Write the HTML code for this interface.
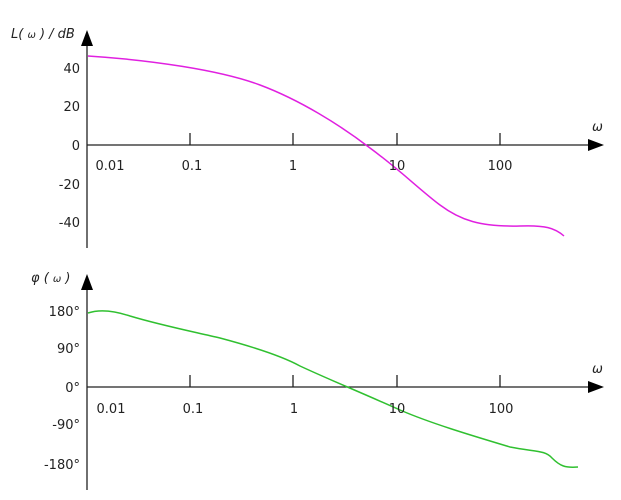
<!DOCTYPE html>
<html><head><style>body{margin:0;background:#fff}svg{display:block}text{font-family:"DejaVu Sans","Liberation Sans",sans-serif;font-size:13px;fill:#222}</style></head><body>
<svg width="621" height="500" viewBox="0 0 621 500">
<g stroke="#222" stroke-width="1.3" fill="none">
<line x1="87" y1="44" x2="87" y2="248"/>
<line x1="87" y1="145" x2="590" y2="145"/>
<line x1="190" y1="133" x2="190" y2="145"/><line x1="293" y1="133" x2="293" y2="145"/><line x1="397" y1="133" x2="397" y2="145"/><line x1="500" y1="133" x2="500" y2="145"/>
<line x1="87" y1="288" x2="87" y2="490"/>
<line x1="87" y1="387" x2="590" y2="387"/>
<line x1="190" y1="375" x2="190" y2="387"/><line x1="293" y1="375" x2="293" y2="387"/><line x1="397" y1="375" x2="397" y2="387"/><line x1="500" y1="375" x2="500" y2="387"/>
</g>
<polygon points="87,30 81,46 93,46" fill="#000"/>
<polygon points="87,274 81,290 93,290" fill="#000"/>
<polygon points="604,145 588,139 588,151" fill="#000"/>
<polygon points="604,387 588,381 588,393" fill="#000"/>
<path d="M88,56 C150,60 220,70 260,85 C300,100 340,125 370,148 C400,170 420,190 440,205 C460,220 480,227 520,226 C545,225 555,228 564,236" stroke="#e020e0" stroke-width="1.5" fill="none"/>
<path d="M88,313 C100,309 115,311 130,316 C160,325 190,331 220,338 C250,346 280,355 300,366 C330,380 360,392 400,410 C430,423 470,435 510,447 C535,452 545,450 552,458 C560,466 565,468 578,467" stroke="#30c030" stroke-width="1.5" fill="none"/>
<g text-anchor="end">
<text x="80" y="73">40</text><text x="80" y="111">20</text><text x="80" y="150">0</text><text x="80" y="189">-20</text><text x="80" y="227">-40</text>
<text x="80" y="316">180°</text><text x="80" y="353">90°</text><text x="80" y="392">0°</text><text x="80" y="429">-90°</text><text x="80" y="469">-180°</text>
</g>
<g text-anchor="middle">
<text x="110" y="170">0.01</text><text x="192" y="170">0.1</text><text x="293" y="170">1</text><text x="397" y="170">10</text><text x="500" y="170">100</text>
<text x="111" y="413">0.01</text><text x="193" y="413">0.1</text><text x="294" y="413">1</text><text x="397" y="413">10</text><text x="501" y="413">100</text>
</g>
<text x="11" y="38" font-style="italic" font-size="14">L( <tspan font-size="10">ω</tspan> ) / dB</text>
<text x="31" y="282" font-style="italic" font-size="14">φ ( <tspan font-size="10">ω</tspan> )</text>
<text x="592" y="131" font-style="italic" font-size="11">ω</text>
<text x="592" y="373" font-style="italic" font-size="11">ω</text>
</svg>
</body></html>
